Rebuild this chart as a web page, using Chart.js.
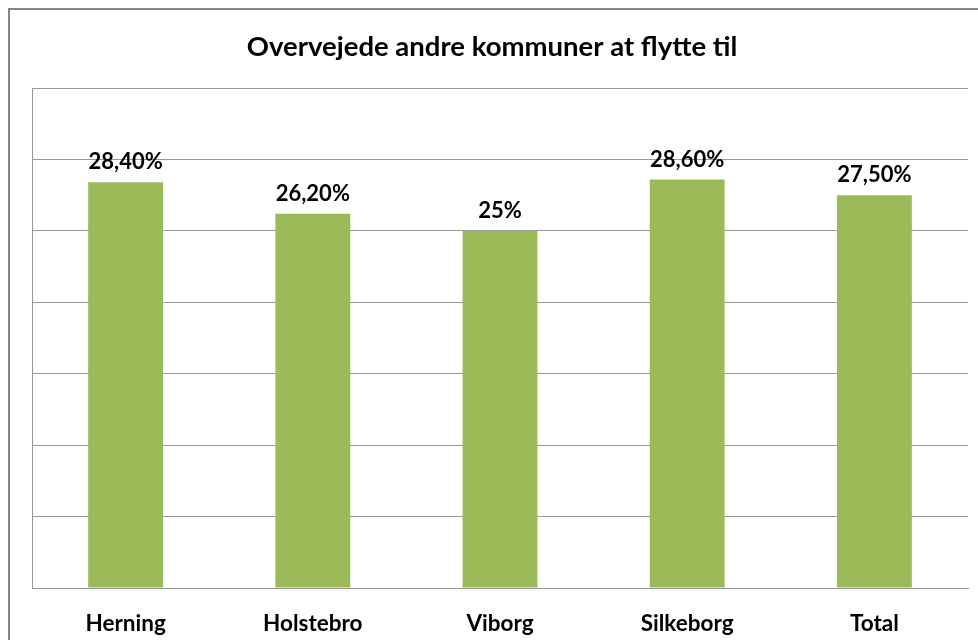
<!DOCTYPE html>
<html>
<head>
<meta charset="utf-8">
<script src="https://cdn.jsdelivr.net/npm/chart.js@4/dist/chart.umd.min.js"></script>
<style>
  html, body { margin: 0; padding: 0; background: #fff; overflow: hidden; }
  canvas { display: block; }
</style>
</head>
<body>
<canvas id="GraficoKommuner" width="978" height="640"></canvas>
<script>
var kommuner = ["Herning", "Holstebro", "Viborg", "Silkeborg", "Total"];
var andele = [28.4, 26.2, 25, 28.6, 27.5];
var yTicks = [0, 5, 10, 15, 20, 25, 30, 35];

var FONT = "Lato, 'Open Sans', sans-serif";

function formatProcent(v) {
    if (Number.isInteger(v)) return v + "%";
    return v.toFixed(2).replace(".", ",") + "%";
}

// ramme rundt om diagrammet + tal over søjlerne
var rammeOgEtiketter = {
    id: "rammeOgEtiketter",
    beforeDraw: function (chart) {
        var ctx = chart.ctx;
        ctx.save();
        ctx.strokeStyle = "#868686";
        ctx.lineWidth = 2;
        ctx.strokeRect(9, 9, chart.width + 20, chart.height + 20);
        ctx.restore();
    },
    afterDatasetsDraw: function (chart) {
        var ctx = chart.ctx;
        var meta = chart.getDatasetMeta(0);
        ctx.save();
        ctx.fillStyle = "#000";
        ctx.font = "bold 22px " + FONT;
        ctx.textAlign = "center";
        ctx.textBaseline = "bottom";
        meta.data.forEach(function (bar, i) {
            ctx.fillText(formatProcent(andele[i]), bar.x, bar.y - 9);
        });
        ctx.restore();
    }
};

new Chart(document.getElementById("GraficoKommuner"), {
    type: "bar",
    data: {
        labels: kommuner,
        datasets: [{
            label: "Overvejede andre kommuner at flytte til",
            data: andele,
            backgroundColor: "#9BBB59",
            categoryPercentage: 1,
            barPercentage: 0.4
        }]
    },
    options: {
        responsive: false,
        animation: false,
        layout: { padding: { left: 16, right: 10, top: 0, bottom: 0 } },
        plugins: {
            legend: { display: false },
            tooltip: { enabled: false },
            title: {
                display: true,
                text: "Overvejede andre kommuner at flytte til",
                color: "#000",
                font: { family: FONT, size: 27.5, weight: "bold" },
                padding: { top: 31, bottom: 24 }
            }
        },
        scales: {
            x: {
                grid: { display: false },
                border: { display: true, color: "#999", width: 1 },
                ticks: {
                    color: "#000",
                    font: { family: FONT, size: 22.5, weight: "bold" },
                    padding: 14,
                    maxRotation: 0,
                    autoSkip: false
                },
                afterFit: function (axis) { axis.height = 52; }
            },
            y: {
                min: yTicks[0],
                max: yTicks[yTicks.length - 1],
                afterBuildTicks: function (axis) {
                    axis.ticks = yTicks.map(function (v) { return { value: v }; });
                },
                grid: { color: "#999", drawTicks: false },
                border: { display: true, color: "#999", width: 1 },
                ticks: { display: false },
                afterFit: function (axis) { axis.width = 16; }
            }
        }
    },
    plugins: [rammeOgEtiketter]
});
</script>
</body>
</html>
